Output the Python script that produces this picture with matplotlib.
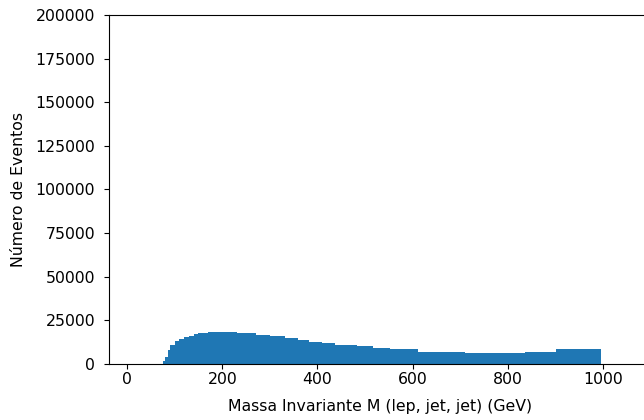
import matplotlib
matplotlib.use("Agg")
import matplotlib.pyplot as plt
import numpy as np

# Histogram of the invariant mass M(lep, jet, jet): bin edges (GeV) and counts per bin
bin_edges = [75, 80, 85, 90, 100, 110, 120, 130, 140, 150, 160, 170, 180, 190, 200,
             210, 220, 230, 250, 270, 300, 332, 359, 382, 410, 437, 483, 517, 552,
             611, 710, 794, 836, 901, 995]
counts = [1500, 4000, 8000, 11000, 13000, 14500, 15500, 16300, 17000, 17500, 18000,
          18300, 18300, 18300, 18300, 18300, 18300, 18000, 17500, 16800, 16000, 14700,
          13700, 12800, 11900, 10900, 10300, 9300, 8800, 7000, 6200, 6300, 7000, 8600]

x_ticks = [0, 200, 400, 600, 800, 1000]
y_ticks = [0, 25000, 50000, 75000, 100000, 125000, 150000, 175000, 200000]

plt.rcParams["font.size"] = 11.3

fig = plt.figure(figsize=(6.44, 4.20), dpi=100)
W, H = 644, 420
x_lo, x_hi = -38, 1100
px_per_unit = 0.476
ax = fig.add_axes([109 / W, (H - 364) / H, (x_hi - x_lo) * px_per_unit / W, 349 / H])

edges = np.array(bin_edges, dtype=float)
centers = 0.5 * (edges[:-1] + edges[1:])
ax.hist(centers, bins=edges, weights=counts, color="#1f77b4")

ax.set_xlim(x_lo, x_hi)
ax.set_ylim(0, 200000)
ax.set_xticks(x_ticks)
ax.set_yticks(y_ticks)
ax.tick_params(axis="x", pad=2)
ax.tick_params(axis="y", pad=6.5)
ax.set_xlabel("Massa Invariante M (lep, jet, jet) (GeV)", labelpad=9)
ax.set_ylabel("Número de Eventos", labelpad=7)

fig.savefig("out.png", dpi=100)
